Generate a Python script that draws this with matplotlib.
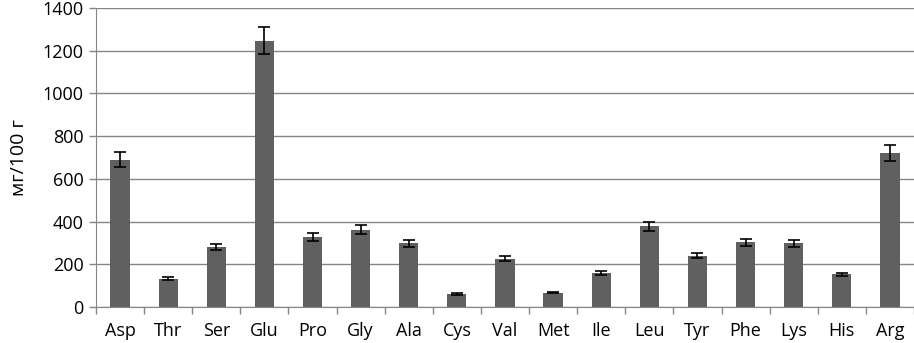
import numpy as np
import matplotlib
matplotlib.use("Agg")
import matplotlib.pyplot as plt

amino = ["Asp", "Thr", "Ser", "Glu", "Pro", "Gly", "Ala", "Cys", "Val",
         "Met", "Ile", "Leu", "Tyr", "Phe", "Lys", "His", "Arg"]
values = [690, 133, 282, 1247, 327, 362, 298, 60, 226,
          67, 158, 378, 240, 302, 298, 153, 720]
errors = [35, 8, 15, 63, 18, 20, 15, 4, 12,
          3, 9, 21, 12, 16, 15, 7, 38]
yticks = [0, 200, 400, 600, 800, 1000, 1200, 1400]

plt.rcParams["font.family"] = ["Open Sans", "DejaVu Sans"]

fig = plt.figure(figsize=(9.14, 3.43), dpi=100)
ax = fig.add_axes([0.105, 0.105, 0.895, 0.872])

x = np.arange(len(amino))
ax.bar(x, values, width=0.4, color="#606060", zorder=3)
ax.errorbar(x, values, yerr=errors, fmt="none", ecolor="black",
            elinewidth=1.2, capsize=4, capthick=1.2, zorder=4)

ax.set_xlim(-0.5, len(amino) - 0.5)
ax.set_ylim(0, 1400)
ax.set_yticks(yticks)
ax.set_yticklabels([str(t) for t in yticks], fontsize=13)
ax.yaxis.grid(True, color="#868686", linewidth=1.0, zorder=0)
ax.set_axisbelow(True)

# category boundaries carry the x tick marks, labels sit in between
ax.set_xticks(np.arange(len(amino) + 1) - 0.5)
ax.set_xticklabels([])
ax.set_xticks(x, minor=True)
ax.set_xticklabels(amino, minor=True, fontsize=13)
ax.tick_params(axis="x", which="major", length=5, color="#868686", width=1)
ax.tick_params(axis="x", which="minor", length=0, pad=11)
ax.tick_params(axis="y", length=5, color="#868686", width=1, pad=4)

for side in ("top", "right"):
    ax.spines[side].set_visible(False)
ax.spines["left"].set_color("#868686")
ax.spines["bottom"].set_color("#868686")

ax.set_ylabel("мг/100 г", fontsize=14, labelpad=10)

fig.savefig("out.png", dpi=100)
